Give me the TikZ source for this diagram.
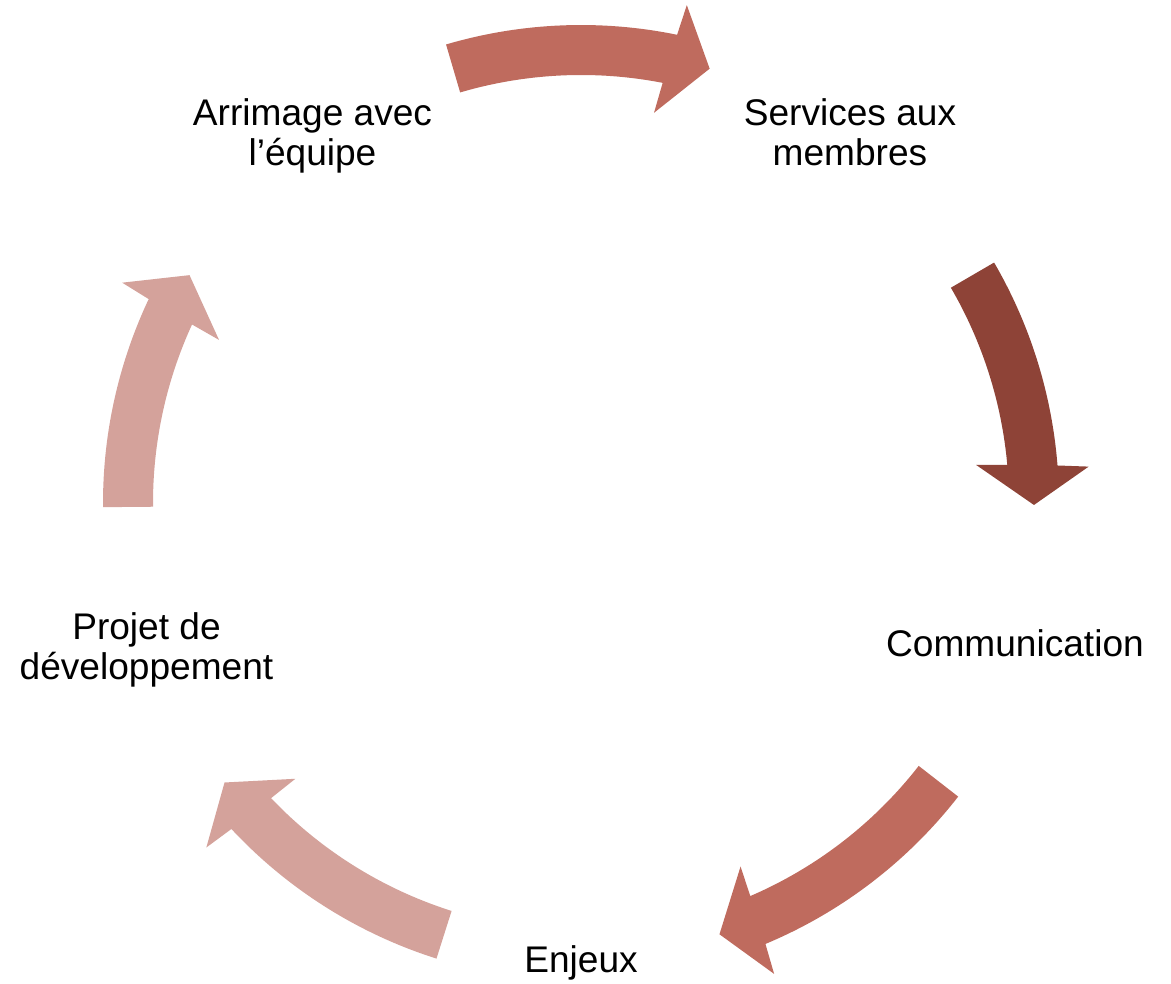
\documentclass[tikz,border=0pt]{standalone}
\usepackage{fontspec}
\setmainfont{Liberation Sans}
\usetikzlibrary{calc}
\definecolor{arrowMid}{HTML}{BF6B5E}
\definecolor{arrowDark}{HTML}{8E4337}
\definecolor{arrowLight}{HTML}{D4A29B}
\tikzset{cycle label/.style={inner sep=0, align=center, anchor=base, font=\fontsize{10.55pt}{11.38pt}\selectfont}}
% curved arrow: colour, tail angle, head base angle, tip angle
\def\cycleArrow#1#2#3#4{%
  \fill[#1] (#2:\rOut) arc[start angle=#2, end angle={#3-0.3}, radius=\rOut]
    -- ({#3-0.7}:\rBarbOut) -- (#4:\rMid) -- ({#3+0.7}:\rBarbIn)
    -- ({#3+0.3}:\rIn) arc[start angle={#3+0.3}, end angle=#2, radius=\rIn] -- cycle;}

\begin{document}
\begin{tikzpicture}

            \def \rIn{4.28}
            \def \rOut{4.78}
            \def \rMid{4.53}
            \def \rBarbIn{3.97}
            \def \rBarbOut{5.09}

            \useasboundingbox (0, 0) rectangle (11.71, 9.84);

            \scope[shift={(5.81, 4.81)}]
              \cycleArrow{arrowMid}{106.4}{78.7}{73.5}
              \cycleArrow{arrowDark}{30.2}{4.8}{-0.25}
              \cycleArrow{arrowMid}{-37.9}{-67.0}{-72.2}
              \cycleArrow{arrowLight}{252.4}{223.3}{218.1}
              \cycleArrow{arrowLight}{180.5}{155.05}{149.8}
            \endscope

            % base of a two-line label is its last line
            \node[cycle label] (arrimage) at (3.125, 8.18) {Arrimage avec\\l’équipe};
            \node[cycle label] (services) at (8.50, 8.18) {Services aux\\membres};
            \node[cycle label] (communication) at (10.15, 3.27) {Communication};
            \node[cycle label] (enjeux) at (5.81, 0.11) {Enjeux};
            \node[cycle label] (projet) at (1.465, 3.04) {Projet de\\développement};

\end{tikzpicture}
\end{document}
